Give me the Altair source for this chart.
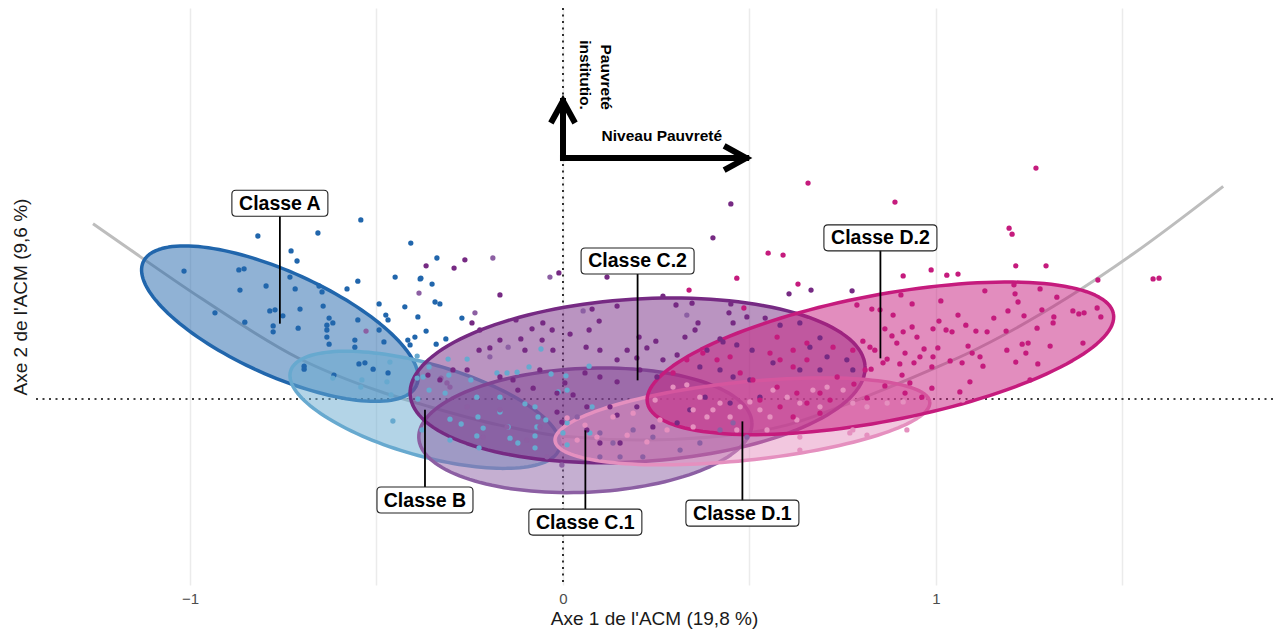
import altair as alt
import numpy as np
import pandas as pd

FONT = "Liberation Sans"

CLASSES = ["Classe A", "Classe B", "Classe C.1", "Classe C.2", "Classe D.1", "Classe D.2"]
COLORS = ["#2166ac", "#67a9cf", "#8c5fa3", "#762a83", "#e590bf", "#c51b7d"]

# ---- individuals (coordinates on axes 1 and 2 of the MCA) ----
A_x = [-0.818,-0.657,-0.408,-0.729,-0.713,-1.016,-0.869,-0.855,-0.550,-0.450,-0.732,-0.866,-0.796,-0.718,-0.654,-0.646,
       -0.579,-0.383,-0.643,-0.493,-0.705,-0.786,-0.772,-0.751,-0.933,-0.853,-0.777,-0.777,-0.710,-0.627,-0.617,-0.633,
       -0.633,-0.550,-0.424,-0.475,-0.469,-0.389,-0.493,-0.633,-0.627,-0.558,-0.558,-0.480,-0.416,-0.694,-0.694,-0.614,
       -0.547,-0.531,-0.509,-0.469,-0.542,-0.381,-0.351,-0.343,-0.330,-0.367,-0.271,-0.314,-0.397,-0.340,-0.410,-0.338]
A_y = [0.437,0.445,0.418,0.397,0.370,0.343,0.346,0.349,0.316,0.327,0.327,0.292,0.303,0.295,0.303,0.287,
       0.295,0.322,0.249,0.255,0.241,0.236,0.239,0.223,0.231,0.206,0.196,0.180,0.190,0.217,0.204,0.198,
       0.185,0.212,0.247,0.225,0.212,0.220,0.185,0.166,0.147,0.158,0.139,0.153,0.158,0.088,0.080,0.064,
       0.094,0.097,0.080,0.070,0.480,0.324,0.308,0.260,0.255,0.182,0.217,0.161,0.166,0.147,0.145,0.378]

B_x = [-0.391,-0.464,-0.539,-0.542,-0.472,-0.461,-0.617,-0.456,-0.391,-0.375,-0.359,-0.389,-0.359,-0.308,-0.257,-0.306,
       -0.316,-0.247,-0.231,-0.177,-0.150,-0.123,-0.091,-0.059,-0.032,-0.169,-0.102,-0.075,-0.013,0.011,0.011,-0.303,
       -0.273,-0.228,-0.214,-0.147,-0.142,-0.121,-0.075,-0.067,-0.070,-0.046,-0.075,-0.225,-0.303,-0.231,-0.169,-0.378,
       0.011,0.078,0.070,0.008,0.000,0.072]
B_y = [0.115,0.099,0.051,0.032,0.046,0.011,0.056,-0.059,0.056,0.059,0.024,0.000,0.086,0.107,0.107,0.064,
       0.016,0.051,0.005,0.070,0.070,0.072,0.086,0.134,0.067,0.005,-0.013,-0.021,0.019,0.024,-0.064,-0.054,
       -0.067,-0.048,-0.078,-0.075,-0.105,-0.118,-0.099,-0.048,-0.075,-0.056,-0.131,-0.131,-0.110,-0.099,-0.035,-0.083,
       -0.123,-0.021,0.088,0.062,-0.091,-0.091]

C1_x = [-0.188,-0.035,0.054,0.332,-0.528,-0.386,-0.327,-0.311,-0.236,-0.147,-0.196,-0.303,-0.257,-0.169,-0.062,0.038,
        0.099,0.134,0.188,0.241,0.099,0.153,0.214,0.314,0.367,0.421,0.456,0.493,-0.043,-0.097,-0.150,-0.214,-0.003]
C1_y = [0.378,0.327,0.236,0.225,0.182,0.284,0.056,0.043,0.231,0.139,0.113,0.032,-0.021,-0.029,-0.075,-0.048,
        -0.091,-0.118,-0.083,-0.102,-0.155,-0.155,-0.155,-0.137,-0.118,-0.083,-0.064,-0.102,-0.155,-0.110,-0.075,-0.102,-0.177]

C2_x = [-0.367,-0.292,-0.263,-0.169,-0.011,0.118,0.450,0.402,0.303,0.268,
        0.145,0.078,0.450,0.346,0.362,-0.126,-0.054,-0.083,-0.029,-0.113,
        -0.056,0.019,0.070,0.097,0.204,0.249,0.327,0.354,0.386,0.429,
        0.456,0.466,0.542,0.493,-0.244,-0.223,-0.196,-0.225,-0.169,-0.102,
        -0.027,0.062,0.099,0.145,0.172,0.198,0.225,0.268,0.306,0.206,
        0.252,0.059,0.099,0.145,0.005,0.027,-0.016,-0.016,0.064,0.126,
        0.145,0.198,0.241,0.064,0.153,0.099,-0.169,-0.134,-0.121,-0.080,
        -0.062,-0.257,-0.295,-0.330,-0.362,-0.003,0.306,0.340,0.381,0.448,
        0.421,0.456,0.367,0.528,0.501,0.563,0.635,0.689,0.606,0.665,
        0.775,0.445,0.421,0.507,0.582,0.635,0.689,0.708,0.761,0.777,
        0.662]
C2_y = [0.357,0.351,0.373,0.279,0.338,0.327,0.523,0.432,0.252,0.276,
        0.249,0.241,0.255,0.257,0.204,0.212,0.204,0.188,0.185,0.161,
        0.158,0.174,0.185,0.209,0.166,0.155,0.166,0.185,0.131,0.153,
        0.204,0.145,0.217,0.220,0.204,0.185,0.137,0.131,0.158,0.131,
        0.131,0.139,0.131,0.105,0.131,0.110,0.137,0.105,0.118,0.078,
        0.059,0.070,0.059,0.046,0.043,0.011,0.016,-0.035,-0.021,-0.021,
        -0.043,-0.021,-0.075,-0.083,-0.118,-0.118,0.059,0.051,0.024,0.029,
        0.078,0.078,0.078,0.051,0.064,-0.062,-0.064,-0.029,0.005,-0.011,
        0.078,0.059,0.086,0.005,0.051,0.097,0.078,0.078,0.282,0.292,
        0.290,0.231,0.161,0.131,0.198,0.204,0.164,0.113,0.105,0.078,
        0.139]

D1_x = [0.011,0.038,0.091,0.134,0.188,0.172,0.225,0.279,0.295,0.332,
        0.367,0.349,0.386,0.421,0.448,0.501,0.528,0.563,0.601,0.635,
        0.670,0.708,0.751,0.777,0.815,0.689,0.627,0.547,0.466,0.349,
        0.635,0.635,0.402,0.475,0.555,0.869,0.912,0.769,0.815,0.922,
        1.072,0.777,0.059,0.247,0.260]
D1_y = [-0.051,-0.110,-0.102,-0.048,-0.038,-0.097,-0.115,-0.083,0.032,0.038,
        0.005,-0.029,-0.048,-0.011,-0.048,-0.008,-0.029,0.024,0.005,-0.011,
        0.024,0.032,0.024,-0.011,-0.021,-0.021,-0.056,-0.083,-0.083,-0.075,
        -0.102,-0.137,-0.029,-0.021,-0.048,-0.011,-0.008,-0.091,-0.097,-0.083,
        -0.003,-0.083,-0.070,-0.003,-0.056]

D2_x = [0.890,1.268,1.196,1.204,1.214,1.295,0.987,1.029,1.059,0.912,
        1.434,1.582,1.598,1.209,1.212,1.279,1.324,1.131,1.220,1.013,
        0.936,0.906,0.788,1.367,1.383,1.397,1.432,1.442,1.284,1.193,
        1.236,1.155,1.059,0.828,0.885,1.008,1.316,1.080,1.107,1.027,
        0.992,0.936,0.912,0.863,0.882,0.804,0.895,0.949,1.005,0.968,
        0.917,1.086,1.097,1.118,1.188,1.231,1.247,1.306,1.241,1.214,
        1.273,1.394,1.252,1.126,1.038,1.070,1.091,1.064,0.989,0.989,
        0.941,0.903,0.836,0.826,0.869,0.909,0.930,0.863,0.917,0.962,
        0.815,0.780,0.466,0.630,0.850,1.043,1.137,1.271,1.314,1.190,
        0.992,0.957,0.858,0.810,0.823,0.777,0.724,0.654,0.617,0.574,
        0.555,0.582,0.617,0.654,0.735,0.689,0.627,0.574,0.509,0.475,
        0.448,0.413,0.375,0.332,0.295,0.528,0.582,0.654,0.716,0.617,
        0.689,0.657,0.550,0.590,0.338,0.485]
D2_y = [0.528,0.619,0.458,0.442,0.357,0.357,0.346,0.332,0.335,0.330,
        0.319,0.322,0.324,0.306,0.282,0.295,0.273,0.290,0.260,0.263,
        0.255,0.279,0.252,0.236,0.228,0.231,0.244,0.220,0.239,0.236,
        0.223,0.217,0.225,0.241,0.225,0.209,0.220,0.198,0.182,0.185,
        0.188,0.193,0.180,0.188,0.169,0.155,0.150,0.166,0.137,0.134,
        0.123,0.142,0.123,0.113,0.182,0.147,0.150,0.142,0.123,0.099,
        0.094,0.150,0.051,0.088,0.102,0.097,0.046,0.019,0.086,0.029,
        0.097,0.094,0.131,0.080,0.107,0.064,0.043,0.035,0.016,0.005,
        0.003,0.040,0.324,0.308,0.239,0.180,0.180,0.190,0.204,0.131,
        0.113,0.113,0.097,0.078,0.139,0.131,0.139,0.150,0.131,0.166,
        0.123,0.105,0.086,0.105,0.059,0.016,0.016,0.032,0.051,0.070,
        0.113,0.105,0.123,0.105,0.070,-0.003,-0.021,-0.011,-0.003,-0.048,
        -0.038,0.579,0.391,0.386,0.292,0.244]

# ---- confidence ellipses of the classes (centre, semi-axes, rotation in degrees) ----
ELL_CX = [-0.759, -0.370, 0.060, 0.200, 0.481, 0.851]
ELL_CY = [0.202, -0.029, -0.084, 0.050, -0.060, 0.109]
ELL_A = [0.402, 0.375, 0.447, 0.611, 0.505, 0.636]
ELL_B = [0.139, 0.123, 0.166, 0.218, 0.105, 0.169]
ELL_ANGLE = [-24.3, -16.0, 2.6, 3.6, 5.9, 10.85]
LABEL_Y = [0.525, -0.271, -0.330, 0.370, -0.306, 0.432]

# ---- smoothed horseshoe curve ----
CURVE_X = [-1.26, -1.16, -0.97, -0.71, -0.49, -0.36, -0.17, 0.00, 0.21, 0.42, 0.60, 0.77, 0.99, 1.08, 1.35, 1.53, 1.77]
CURVE_Y = [0.47, 0.40, 0.27, 0.11, 0.02, -0.02, -0.07, -0.10, -0.11, -0.10, -0.07, -0.01, 0.08, 0.12, 0.27, 0.39, 0.57]

# ---- interpretation arrows ----
ARROW_ORIGIN = [0.0, 0.646]
ARROW_UP_Y = 0.799
ARROW_RIGHT_X = 0.491
TXT_H = {"x": 0.265, "y": 0.692, "text": "Niveau Pauvreté"}
TXT_V = {"x": 0.102, "y": 0.775, "text": ["Pauvreté", "institutio."]}

XDOM = [-1.4155, 1.9035]
YDOM = [-0.4987, 1.0483]
W, H = 1238, 577

xs = alt.Scale(domain=XDOM, nice=False, zero=False)
ys = alt.Scale(domain=YDOM, nice=False, zero=False)
X_AXIS = alt.Axis(values=[-1, -0.5, 0, 0.5, 1, 1.5], format=".0f",
                  labelExpr="datum.value % 1 == 0 ? datum.label : ''",
                  grid=True, gridColor="#ebebeb", gridWidth=1.5, ticks=False, domain=False,
                  labelFont=FONT, labelFontSize=15, labelColor="#4d4d4d", labelPadding=6,
                  title="Axe 1 de l'ACM (19,8 %)", titleFont=FONT, titleFontSize=19,
                  titleFontWeight="normal", titleColor="#1a1a1a", titlePadding=3)
Y_AXIS = alt.Axis(labels=False, ticks=False, domain=False, grid=False,
                  title="Axe 2 de l'ACM (9,6 %)", titleFont=FONT, titleFontSize=19,
                  titleFontWeight="normal", titleColor="#1a1a1a", titlePadding=5)


def X(f="x"):
    return alt.X(f"{f}:Q", scale=xs, axis=X_AXIS)


def Y(f="y"):
    return alt.Y(f"{f}:Q", scale=ys, axis=Y_AXIS)


layers = []

# reference dotted lines
layers.append(alt.Chart(pd.DataFrame({"x": [0.0]})).mark_rule(
    color="black", strokeDash=[2, 4.5], strokeWidth=1.6).encode(x=X()))
layers.append(alt.Chart(pd.DataFrame({"y": [0.0]})).mark_rule(
    color="black", strokeDash=[2, 4.5], strokeWidth=1.6).encode(y=Y()))

# curve
layers.append(alt.Chart(pd.DataFrame({"x": CURVE_X, "y": CURVE_Y})).mark_line(
    color="#bdbdbd", strokeWidth=3, interpolate="monotone").encode(x=X(), y=Y()))

# ellipses
t = np.linspace(0, 2 * np.pi, 145)
for k, c in enumerate(COLORS):
    th = np.deg2rad(ELL_ANGLE[k])
    ex = ELL_CX[k] + ELL_A[k] * np.cos(t) * np.cos(th) - ELL_B[k] * np.sin(t) * np.sin(th)
    ey = ELL_CY[k] + ELL_A[k] * np.cos(t) * np.sin(th) + ELL_B[k] * np.sin(t) * np.cos(th)
    edf = pd.DataFrame({"x": ex, "y": ey, "i": np.arange(len(t))})
    layers.append(alt.Chart(edf).mark_line(
        stroke=c, fill=c, fillOpacity=0.5, strokeWidth=3.5, strokeJoin="round").encode(
        x=X(), y=Y(), order="i:Q"))

# points
pts = []
for cls, xv, yv in zip(CLASSES, [A_x, B_x, C1_x, C2_x, D1_x, D2_x], [A_y, B_y, C1_y, C2_y, D1_y, D2_y]):
    n = min(len(xv), len(yv))
    pts.append(pd.DataFrame({"x": xv[:n], "y": yv[:n], "cls": cls}))
pts = pd.concat(pts, ignore_index=True)
layers.append(alt.Chart(pts).mark_circle(size=28, opacity=1).encode(
    x=X(), y=Y(),
    color=alt.Color("cls:N", scale=alt.Scale(domain=CLASSES, range=COLORS), legend=None)))

# labels with connectors
UNIT = 60.0


def rounded_box(hw, hh=13.0, r=4.0):
    w, h, q = hw / UNIT, hh / UNIT, r / UNIT
    return (f"M {-w+q} {-h} L {w-q} {-h} Q {w} {-h} {w} {-h+q} L {w} {h-q} Q {w} {h} {w-q} {h} "
            f"L {-w+q} {h} Q {-w} {h} {-w} {h-q} L {-w} {-h+q} Q {-w} {-h} {-w+q} {-h} Z")


lab = pd.DataFrame({"x": ELL_CX, "y": LABEL_Y, "yc": ELL_CY, "label": CLASSES})
lab["path"] = [rounded_box(48 + (len(s) - 8) * 4.25) for s in CLASSES]
layers.append(alt.Chart(lab).mark_rule(color="black", strokeWidth=1.8).encode(
    x=X(), y=Y("yc"), y2=alt.Y2("y")))
layers.append(alt.Chart(lab).mark_point(
    size=(2 * UNIT) ** 2, fill="white", stroke="#222222", strokeWidth=1.1, opacity=1, fillOpacity=1).encode(
    x=X(), y=Y(), shape=alt.Shape("path:N", scale=None)))
layers.append(alt.Chart(lab).mark_text(
    font=FONT, fontWeight="bold", fontSize=19.5, color="black", baseline="middle", dy=0.5).encode(
    x=X(), y=Y(), text="label:N"))

# arrows
adf = pd.DataFrame({"x": [ARROW_ORIGIN[0]], "y": [ARROW_ORIGIN[1]], "x2": [ARROW_RIGHT_X], "y2": [ARROW_UP_Y]})
layers.append(alt.Chart(adf).mark_rule(color="black", strokeWidth=6, strokeCap="square").encode(
    x=X(), y=Y(), y2=alt.Y2("y2")))
layers.append(alt.Chart(adf).mark_rule(color="black", strokeWidth=6, strokeCap="square").encode(
    x=X(), x2=alt.X2("x2"), y=Y()))
CHEVRON = "M -0.55 1 L 0 0 L 0.55 1"
heads = pd.DataFrame({"x": [ARROW_ORIGIN[0], ARROW_RIGHT_X], "y": [ARROW_UP_Y, ARROW_ORIGIN[1]], "ang": [0, 90]})
layers.append(alt.Chart(heads).mark_point(
    shape=CHEVRON, filled=False, stroke="black", strokeWidth=6, strokeJoin="miter", size=1936, opacity=1).encode(
    x=X(), y=Y(), angle=alt.Angle("ang:Q", scale=None)))

layers.append(alt.Chart(pd.DataFrame([TXT_H])).mark_text(
    font=FONT, fontWeight="bold", fontSize=15.5, color="black", align="center", baseline="alphabetic").encode(
    x=X(), y=Y(), text="text:N"))
layers.append(alt.Chart(pd.DataFrame({"x": [TXT_V["x"]], "y": [TXT_V["y"]]})).mark_text(
    text=TXT_V["text"], font=FONT, fontWeight="bold", fontSize=15.5, color="black", angle=90,
    align="right", baseline="alphabetic", lineHeight=21).encode(x=X(), y=Y()))

chart = alt.layer(*layers).properties(
    width=W, height=H,
    autosize=alt.AutoSizeParams(type="none"),
    padding={"left": 27, "top": 0, "right": 0, "bottom": 47},
).configure_view(stroke=None)

chart.save("out.html", embed_options={"renderer": "svg", "actions": False})
